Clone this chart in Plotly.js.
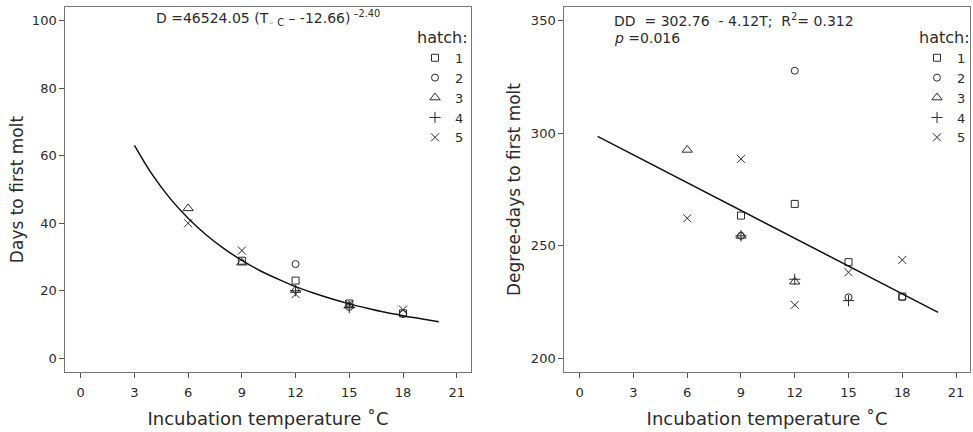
<!DOCTYPE html>
<html>
<head>
<meta charset="utf-8">
<script src="https://cdn.plot.ly/plotly-3.0.1.min.js"></script>
<style>html,body{margin:0;padding:0;background:#fff;}#chart{width:973px;height:432px;}</style>
</head>
<body>
<div id="chart"></div>
<script>
// ---- data ----
const hatchNames = ['1', '2', '3', '4', '5'];
const hatchSymbols = ['square-open', 'circle-open', 'triangle-up-open', 'cross-thin-open', 'x-thin-open'];
const hatchSizes = [7, 7, 9, 8, 8];

// Left panel: days to first molt
const daysT = [
  [9, 12, 15, 18],        // hatch 1
  [12, 15, 18],           // hatch 2
  [6, 9, 12, 15],         // hatch 3
  [12, 15],               // hatch 4
  [6, 9, 12, 15, 18]      // hatch 5
];
const daysD = [
  [28.9, 23.0, 16.2, 13.3],
  [27.9, 15.2, 13.1],
  [44.4, 28.3, 20.2, 15.6],
  [20.0, 15.0],
  [40.0, 31.9, 19.0, 16.0, 14.4]
];
// fitted curve
const curveT = [3, 4, 5, 6, 7, 8, 9, 10, 11, 12, 13, 14, 15, 16, 17, 18, 19, 20];
const curveD = [63.1, 54.4, 47.3, 41.5, 36.6, 32.5, 29.0, 26.0, 23.5, 21.2, 19.3, 17.6, 16.1, 14.8, 13.6, 12.6, 11.7, 10.8];

// Right panel: degree-days to first molt
const ddT = [
  [9, 12, 15, 18],
  [9, 12, 15, 18],
  [6, 9, 12],
  [9, 12, 15],
  [6, 9, 12, 15, 18]
];
const ddV = [
  [263.4, 268.6, 242.7, 227.4],
  [254.4, 327.8, 227.1, 227.2],
  [292.6, 254.4, 234.0],
  [254.4, 235.1, 225.6],
  [262.2, 288.6, 223.7, 238.2, 243.7]
];
const lineT = [1, 20];
const lineDD = [298.64, 220.36];

const xTicks = [0, 3, 6, 9, 12, 15, 18, 21];
const yTicksLeft = [0, 20, 40, 60, 80, 100];
const yTicksRight = [200, 250, 300, 350];

// ---- styling ----
const ink = '#2b2b2b';
const FONT = 'DejaVu Sans, sans-serif';
const traces = [];

hatchNames.forEach((h, i) => {
  traces.push({
    type: 'scatter', mode: 'markers', x: daysT[i], y: daysD[i],
    xaxis: 'x', yaxis: 'y', name: h, legend: 'legend',
    marker: {symbol: hatchSymbols[i], size: hatchSizes[i], color: ink, line: {color: ink, width: 1}},
    hoverinfo: 'x+y'
  });
});
traces.push({type: 'scatter', mode: 'lines', x: curveT, y: curveD, xaxis: 'x', yaxis: 'y',
  line: {color: '#111', width: 1.5, shape: 'spline'}, showlegend: false});

hatchNames.forEach((h, i) => {
  traces.push({
    type: 'scatter', mode: 'markers', x: ddT[i], y: ddV[i],
    xaxis: 'x2', yaxis: 'y2', name: h, legend: 'legend2',
    marker: {symbol: hatchSymbols[i], size: hatchSizes[i], color: ink, line: {color: ink, width: 1}},
    hoverinfo: 'x+y'
  });
});
traces.push({type: 'scatter', mode: 'lines', x: lineT, y: lineDD, xaxis: 'x2', yaxis: 'y2',
  line: {color: '#111', width: 1.5}, showlegend: false});

function xAxis(domain, anchor) {
  return {
    domain: domain, anchor: anchor, range: [-0.86, 21.78],
    tickmode: 'array', tickvals: xTicks, ticktext: xTicks.map(String),
    ticks: 'outside', ticklen: 5, tickwidth: 1, tickcolor: '#555',
    ticklabelstandoff: 4,
    showline: true, mirror: true, linecolor: '#777', linewidth: 1,
    showgrid: false, zeroline: false,
    tickfont: {family: FONT, size: 13, color: ink},
    title: {text: 'Incubation temperature ˚C', font: {family: FONT, size: 18, color: ink}, standoff: 13}
  };
}
function yAxis(domain, anchor, range, ticks, title, standoff) {
  return {
    domain: domain, anchor: anchor, range: range,
    tickmode: 'array', tickvals: ticks, ticktext: ticks.map(String),
    ticks: 'outside', ticklen: 5, tickwidth: 1, tickcolor: '#555',
    showline: true, mirror: true, linecolor: '#777', linewidth: 1,
    showgrid: false, zeroline: false,
    tickfont: {family: FONT, size: 13, color: ink},
    title: {text: title, font: {family: FONT, size: 17, color: ink}, standoff: standoff}
  };
}

const yDom = [1 - 371.7 / 432, 1 - 7.3 / 432];
const legendStyle = (xr) => ({
  x: xr, xanchor: 'right', y: 1 - 22 / 432, yanchor: 'top',
  bgcolor: 'rgba(0,0,0,0)', borderwidth: 0,
  font: {family: FONT, size: 13, color: ink},
  title: {text: 'hatch:', side: 'top', font: {family: FONT, size: 16, color: ink}},
  itemwidth: 30, tracegroupgap: 0
});

const layout = {
  width: 973, height: 432,
  margin: {l: 0, r: 0, t: 0, b: 0},
  paper_bgcolor: '#fff', plot_bgcolor: '#fff',
  font: {family: FONT, color: ink},
  showlegend: true,
  xaxis: xAxis([65.3 / 973, 470.7 / 973], 'y'),
  yaxis: yAxis(yDom, 'x', [-4, 104], yTicksLeft, 'Days to first molt', 3),
  xaxis2: xAxis([564.3 / 973, 970 / 973], 'y2'),
  yaxis2: yAxis(yDom, 'x2', [194, 356], yTicksRight, 'Degree-days to first molt', 5),
  legend: legendStyle(470 / 973),
  legend2: legendStyle(972 / 973),
  annotations: [
    {xref: 'x domain', yref: 'y domain', x: 0.5, y: 0.971, xanchor: 'center', yanchor: 'middle',
     showarrow: false, font: {family: FONT, size: 14, color: ink},
     text: 'D =46524.05 (T<sub>◦ C</sub> – -12.66)<sup> –2.40</sup>'},
    {xref: 'x2 domain', yref: 'y2 domain', x: 0.1176, y: 0.966, xanchor: 'left', yanchor: 'middle',
     showarrow: false, font: {family: FONT, size: 14, color: ink},
     text: 'DD  = 302.76  - 4.12T;  R<sup>2</sup>= 0.312'},
    {xref: 'x2 domain', yref: 'y2 domain', x: 0.1176, y: 0.916, xanchor: 'left', yanchor: 'middle',
     showarrow: false, font: {family: FONT, size: 14, color: ink},
     text: '<i>p</i> =0.016'}
  ]
};

Plotly.newPlot('chart', traces, layout, {displayModeBar: false, staticPlot: true});
</script>
</body>
</html>
